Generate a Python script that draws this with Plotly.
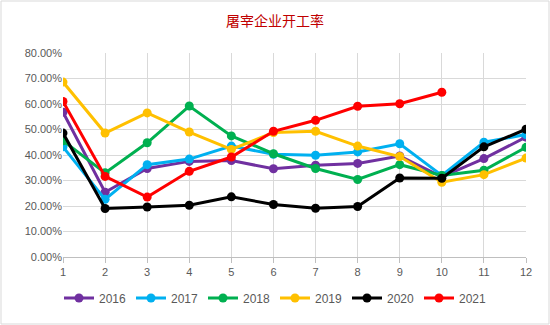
import plotly.graph_objects as go

months = [1, 2, 3, 4, 5, 6, 7, 8, 9, 10, 11, 12]
y2016 = [56.8, 25.4, 34.7, 37.5, 37.8, 34.6, 36.0, 36.7, 39.6, 31.4, 38.6, 47.0]
y2017 = [43.2, 22.6, 36.2, 38.4, 43.5, 40.3, 39.9, 41.2, 44.4, 32.0, 45.0, 48.0]
y2018 = [45.6, 33.0, 44.8, 59.2, 47.5, 40.5, 34.7, 30.4, 36.2, 32.0, 34.0, 43.0]
y2019 = [68.6, 48.6, 56.5, 49.0, 42.2, 48.8, 49.3, 43.5, 39.4, 29.3, 32.3, 38.8]
y2020 = [48.6, 19.0, 19.6, 20.3, 23.6, 20.6, 19.1, 19.8, 31.0, 30.9, 43.2, 50.1]
y2021 = [61.0, 31.6, 23.5, 33.6, 39.2, 49.3, 53.6, 59.1, 60.1, 64.6]

series = [
    ("2016", y2016, "#7030A0"),
    ("2017", y2017, "#00B0F0"),
    ("2018", y2018, "#00B050"),
    ("2019", y2019, "#FFC000"),
    ("2020", y2020, "#000000"),
    ("2021", y2021, "#FF0000"),
]

fig = go.Figure()
for name, vals, color in series:
    fig.add_trace(go.Scatter(
        x=months[:len(vals)], y=[v / 100 for v in vals], name=name,
        mode="lines+markers",
        line=dict(color=color, width=3),
        marker=dict(color=color, size=9),
    ))

W, H = 550, 325
ml, mr, mt, mb = 63, 24, 53, 68
pw, ph = W - ml - mr, H - mt - mb

fig.update_layout(
    width=W, height=H,
    margin=dict(l=ml, r=mr, t=mt, b=mb),
    paper_bgcolor="white", plot_bgcolor="white",
    font=dict(family="Liberation Sans, Arial, sans-serif", color="#595959", size=11),
    title=dict(text="屠宰企业开工率", x=0.5, xanchor="center", y=1 - 21 / H, yanchor="middle",
               font=dict(family="Noto Sans CJK SC", size=14, color="#C00000")),
    showlegend=True,
    legend=dict(orientation="h", x=(W / 2 - ml) / pw, xanchor="center", y=-(298 - 257) / ph, yanchor="middle",
                font=dict(size=12, color="#595959"), itemwidth=30,
                entrywidth=27, entrywidthmode="pixels", tracegroupgap=0),
    xaxis=dict(range=[1, 12], tickvals=months, ticktext=[str(m) for m in months],
               showgrid=True, gridcolor="#D9D9D9", gridwidth=1,
               showline=True, linecolor="#BFBFBF", ticks="outside", ticklen=5, tickcolor="#BFBFBF",
               zeroline=False, tickfont=dict(size=11, color="#595959")),
    yaxis=dict(range=[0, 0.8], dtick=0.1, tickformat=".2%",
               showgrid=True, gridcolor="#D9D9D9", gridwidth=1,
               zeroline=False, showline=False, tickfont=dict(size=11, color="#595959")),
)

fig.add_shape(type="rect", xref="paper", yref="paper",
              x0=-(ml - 1) / pw, x1=1 + (mr - 1) / pw,
              y0=-(mb - 1) / ph, y1=1 + (mt - 1) / ph,
              line=dict(color="#D9D9D9", width=1), layer="below")

fig.write_html("out.html")
